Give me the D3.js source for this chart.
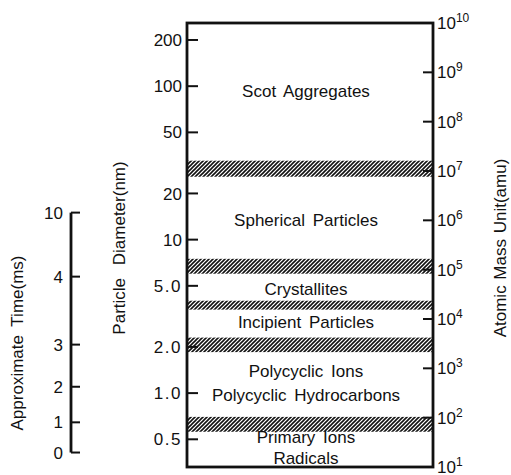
<!DOCTYPE html>
<meta charset="utf-8">
<script src="https://d3js.org/d3.v7.min.js"></script>
<style>
  body { margin: 0; background: #fff; }
  text { font-family: "Liberation Sans", Arial, sans-serif; fill: #111; }
</style>
<div id="chart"></div>
<script>
// particle diameter axis (nm)
var diamTicks = [200, 100, 50, 20, 10, 5, 2, 1, 0.5]
var diamLabels = ["200", "100", "50", "20", "10", "5.0", "2.0", "1.0", "0.5"]
// atomic mass unit axis, exponents of 10
var amuExp = [1, 2, 3, 4, 5, 6, 7, 8, 9, 10]
// approximate time axis (ms), placed at the equivalent diameter
var timeLabels = ["0", "1", "2", "3", "4", "10"]
var timeAtDiam = [0.41, 0.645, 1.1, 2.07, 5.74, 15]
// hatched boundaries between regimes (nm)
var bandLow  = [25.7, 6.0, 3.5, 1.85, 0.56]
var bandHigh = [32.7, 7.5, 4.0, 2.3, 0.70]
// regime names and their centre diameter (nm)
var regions = ["Scot Aggregates", "Spherical Particles", "Crystallites", "Incipient Particles",
               "Polycyclic Ions", "Polycyclic Hydrocarbons", "Primary Ions", "Radicals"]
var regionAt = [93, 13.5, 4.8, 2.9, 1.4, 0.98, 0.52, 0.38]

var width = 511, height = 475
var boxL = 187, boxR = 433, boxT = 23, boxB = 467

var svg = d3.select("#chart").append("svg")
    .attr("width", width).attr("height", height)

var y = d3.scaleLog().domain([0.33, 258]).range([boxB, boxT])
var yA = d3.scaleLog().domain([10, 1e10]).range([boxB, boxT])

// hatch pattern
var defs = svg.append("defs")
defs.append("pattern")
    .attr("id", "hatch")
    .attr("patternUnits", "userSpaceOnUse")
    .attr("width", 4).attr("height", 4)
  .append("path")
    .attr("d", "M-1,1 l2,-2 M0,4 l4,-4 M3,5 l2,-2")
    .attr("stroke", "#111")
    .attr("stroke-width", 1.6)

var bands = bandLow.map(function(d, i) { return {lo: d, hi: bandHigh[i]} })

// ticks (inside the box)
svg.selectAll(".ltick").data(diamTicks).enter().append("line")
    .attr("x1", boxL).attr("x2", boxL + 11)
    .attr("y1", function(d) { return y(d) }).attr("y2", function(d) { return y(d) })
    .attr("stroke", "#111").attr("stroke-width", 2)

svg.selectAll(".rtick").data(amuExp.slice(1, -1)).enter().append("line")
    .attr("x1", boxR - 10).attr("x2", boxR)
    .attr("y1", function(d) { return yA(Math.pow(10, d)) }).attr("y2", function(d) { return yA(Math.pow(10, d)) })
    .attr("stroke", "#111").attr("stroke-width", 2)

svg.selectAll(".band").data(bands).enter().append("rect")
    .attr("x", boxL).attr("width", boxR - boxL)
    .attr("y", function(d) { return y(d.hi) })
    .attr("height", function(d) { return y(d.lo) - y(d.hi) })
    .attr("fill", "url(#hatch)")

// box
svg.append("rect")
    .attr("x", boxL).attr("y", boxT)
    .attr("width", boxR - boxL).attr("height", boxB - boxT)
    .attr("fill", "none").attr("stroke", "#111").attr("stroke-width", 2.8)

// left tick labels
svg.selectAll(".llab").data(diamTicks).enter().append("text")
    .attr("x", boxL - 5)
    .attr("y", function(d) { return y(d) })
    .attr("dy", "0.36em")
    .attr("text-anchor", "end")
    .style("font-size", "17px")
    .style("letter-spacing", function(d, i) { return diamLabels[i].indexOf(".") >= 0 ? "1.5px" : "0px" })
    .text(function(d, i) { return diamLabels[i] })

// right tick labels 10^n
var rl = svg.selectAll(".rlab").data(amuExp).enter().append("text")
    .attr("x", boxR + 4)
    .attr("y", function(d) { return yA(Math.pow(10, d)) })
    .attr("dy", "0.36em")
    .style("font-size", "17px")
rl.append("tspan").text("10")
rl.append("tspan").attr("dy", -7).style("font-size", "12px").text(function(d) { return d })

// region names
svg.selectAll(".reg").data(regions).enter().append("text")
    .attr("x", 306)
    .attr("y", function(d, i) { return y(regionAt[i]) })
    .attr("dy", "0.36em")
    .attr("text-anchor", "middle")
    .style("font-size", "17px")
    .style("word-spacing", "3px")
    .text(function(d) { return d })

// time axis
var tTop = y(timeAtDiam[timeAtDiam.length - 1]), tBot = y(timeAtDiam[0])
svg.append("line")
    .attr("x1", 71).attr("x2", 71).attr("y1", tTop).attr("y2", tBot)
    .attr("stroke", "#111").attr("stroke-width", 2.8)
svg.selectAll(".ttick").data(timeAtDiam).enter().append("line")
    .attr("x1", 71).attr("x2", 80)
    .attr("y1", function(d) { return y(d) }).attr("y2", function(d) { return y(d) })
    .attr("stroke", "#111").attr("stroke-width", 2)
svg.selectAll(".tlab").data(timeAtDiam).enter().append("text")
    .attr("x", 63)
    .attr("y", function(d) { return y(d) })
    .attr("dy", "0.36em")
    .attr("text-anchor", "end")
    .style("font-size", "17px")
    .text(function(d, i) { return timeLabels[i] })

// axis titles
function title(x, cy, t, ws) {
  svg.append("text")
      .attr("transform", "translate(" + x + "," + cy + ") rotate(-90)")
      .attr("text-anchor", "middle")
      .style("font-size", "17px")
      .style("word-spacing", ws + "px")
      .text(t)
}
title(23, 343, "Approximate Time(ms)", 4)
title(125, 248, "Particle Diameter(nm)", 8)
title(506, 248, "Atomic Mass Unit(amu)", 1)
</script>
